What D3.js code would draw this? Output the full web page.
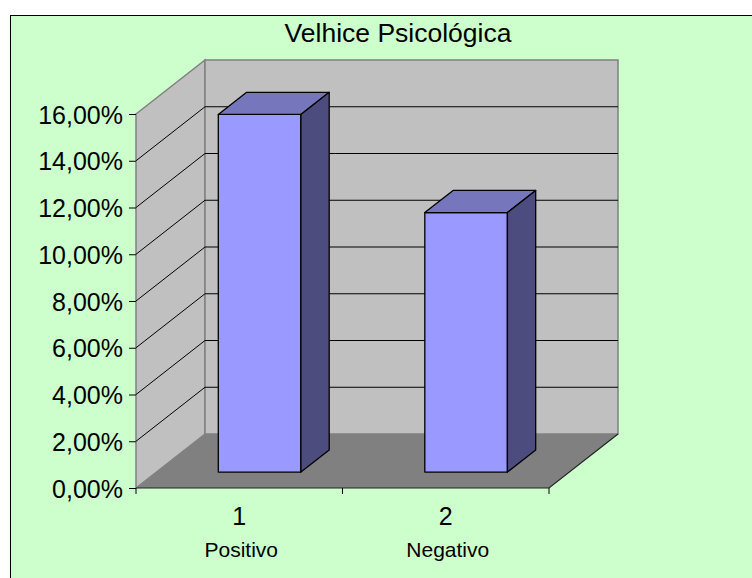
<!DOCTYPE html>
<html>
<head>
<meta charset="utf-8">
<script src="https://cdn.jsdelivr.net/npm/d3@7"></script>
<style>
  html, body { margin: 0; padding: 0; background: #ffffff; }
  svg { display: block; font-family: "Liberation Sans", Arial, sans-serif; }
</style>
</head>
<body>
<svg id="chart" width="752" height="578"></svg>
<script>
// data
const title = 'Velhice Psicológica';
const categories = ['1', '2'];
const categoryNames = ['Positivo', 'Negativo'];
const values = [15.3, 11.1];
const yTicks = [0, 2, 4, 6, 8, 10, 12, 14, 16];

const svg = d3.select('#chart');

// oblique depth of the 3D box
const DX = 69, DY = 54;
const barFront = 0.295, barBack = 0.705;

const x = d3.scaleBand().domain(categories).range([136, 549]).paddingInner(0.6).paddingOuter(0.3);
const y = d3.scaleLinear().domain([0, 16]).range([488, 114]);

// project a point on the front plane back by depth d (0..1)
const proj = (px, py, d) => [px + d * DX, py - d * DY];
const poly = pts => 'M' + pts.map(p => p.join(',')).join('L') + 'Z';

// chart area
svg.append('rect')
  .attr('x', 10.5).attr('y', 15.5)
  .attr('width', 800).attr('height', 700)
  .attr('fill', '#ccffcc').attr('stroke', '#000').attr('stroke-width', 1);

svg.append('text')
  .attr('x', 398).attr('y', 42)
  .attr('text-anchor', 'middle')
  .attr('font-size', 26.5)
  .text(title);

const x0 = x.range()[0], x1 = x.range()[1];
const y0 = y(0), yTop = y(16);

// left wall
svg.append('path')
  .attr('d', poly([[x0, yTop], proj(x0, yTop, 1), proj(x0, y0, 1), [x0, y0]]))
  .attr('fill', '#c0c0c0').attr('stroke', '#808080').attr('stroke-width', 1.5);

// back wall
svg.append('path')
  .attr('d', poly([proj(x0, yTop, 1), proj(x1, yTop, 1), proj(x1, y0, 1), proj(x0, y0, 1)]))
  .attr('fill', '#c0c0c0').attr('stroke', '#808080').attr('stroke-width', 1.5);

// gridlines: diagonal on the left wall, horizontal on the back wall
const grid = svg.append('g').attr('stroke', '#000').attr('stroke-width', 1).attr('fill', 'none');
grid.selectAll('path.gl')
  .data(yTicks.filter(t => t > 0 && t < 16))
  .enter().append('path')
  .attr('class', 'gl')
  .attr('d', t => {
    const a = [x0, y(t)], b = proj(x0, y(t), 1), c = proj(x1, y(t), 1);
    return 'M' + a.join(',') + 'L' + b.join(',') + 'L' + c.join(',');
  });

// floor
svg.append('path')
  .attr('d', poly([[x0, y0], [x1, y0], proj(x1, y0, 1), proj(x0, y0, 1)]))
  .attr('fill', '#808080').attr('stroke', 'none');
svg.append('path')
  .attr('d', 'M' + [x0, y0].join(',') + 'L' + [x1, y0].join(',') + 'L' + proj(x1, y0, 1).join(','))
  .attr('fill', 'none').attr('stroke', '#222').attr('stroke-width', 1.2);

// bars
const bars = svg.selectAll('g.bar')
  .data(categories.map((c, i) => ({ cat: c, v: values[i] })))
  .enter().append('g').attr('class', 'bar')
  .attr('stroke', '#000').attr('stroke-width', 1.3).attr('stroke-linejoin', 'round');

bars.each(function (d) {
  const g = d3.select(this);
  const bl = x(d.cat), br = x(d.cat) + x.bandwidth();
  const yt = y(d.v);
  const dd = barBack - barFront;
  const fl = proj(bl, yt, barFront), fr = proj(br, yt, barFront);
  const flb = proj(bl, y0, barFront), frb = proj(br, y0, barFront);
  const bk = p => [p[0] + dd * DX, p[1] - dd * DY];
  // front
  g.append('path').attr('d', poly([fl, fr, frb, flb])).attr('fill', '#9999ff');
  // top
  g.append('path').attr('d', poly([fl, bk(fl), bk(fr), fr])).attr('fill', '#7676bd');
  // side
  g.append('path').attr('d', poly([fr, bk(fr), bk(frb), frb])).attr('fill', '#4c4c7f');
});

// value axis
const yAxis = d3.axisLeft(y)
  .tickValues(yTicks)
  .tickSize(7)
  .tickPadding(6)
  .tickFormat(t => t.toFixed(2).replace('.', ',') + '%');
const ya = svg.append('g').attr('transform', `translate(${x0},0)`).call(yAxis);
ya.select('.domain').remove();
ya.selectAll('.tick line').attr('stroke', '#000');
ya.selectAll('.tick text')
  .attr('font-family', '"Liberation Sans", Arial, sans-serif')
  .attr('font-size', 25).attr('fill', '#000').attr('dy', '0.36em');

// category axis ticks at band boundaries
const bounds = d3.range(categories.length + 1).map(i => x0 + i * x.step());
svg.append('g').selectAll('line')
  .data(bounds).enter().append('line')
  .attr('x1', d => d).attr('x2', d => d)
  .attr('y1', y0).attr('y2', y0 + 6)
  .attr('stroke', '#000');

const labels = svg.append('g').attr('text-anchor', 'middle').attr('fill', '#000');
labels.selectAll('text.num')
  .data(categories).enter().append('text')
  .attr('class', 'num')
  .attr('x', d => x(d) + x.bandwidth() / 2)
  .attr('y', 525)
  .attr('font-size', 25)
  .text(d => d);
labels.selectAll('text.name')
  .data(categoryNames).enter().append('text')
  .attr('class', 'name')
  .attr('x', (d, i) => x(categories[i]) + x.bandwidth() / 2 + 2)
  .attr('y', 557)
  .attr('font-size', 21)
  .text(d => d);
</script>
</body>
</html>
